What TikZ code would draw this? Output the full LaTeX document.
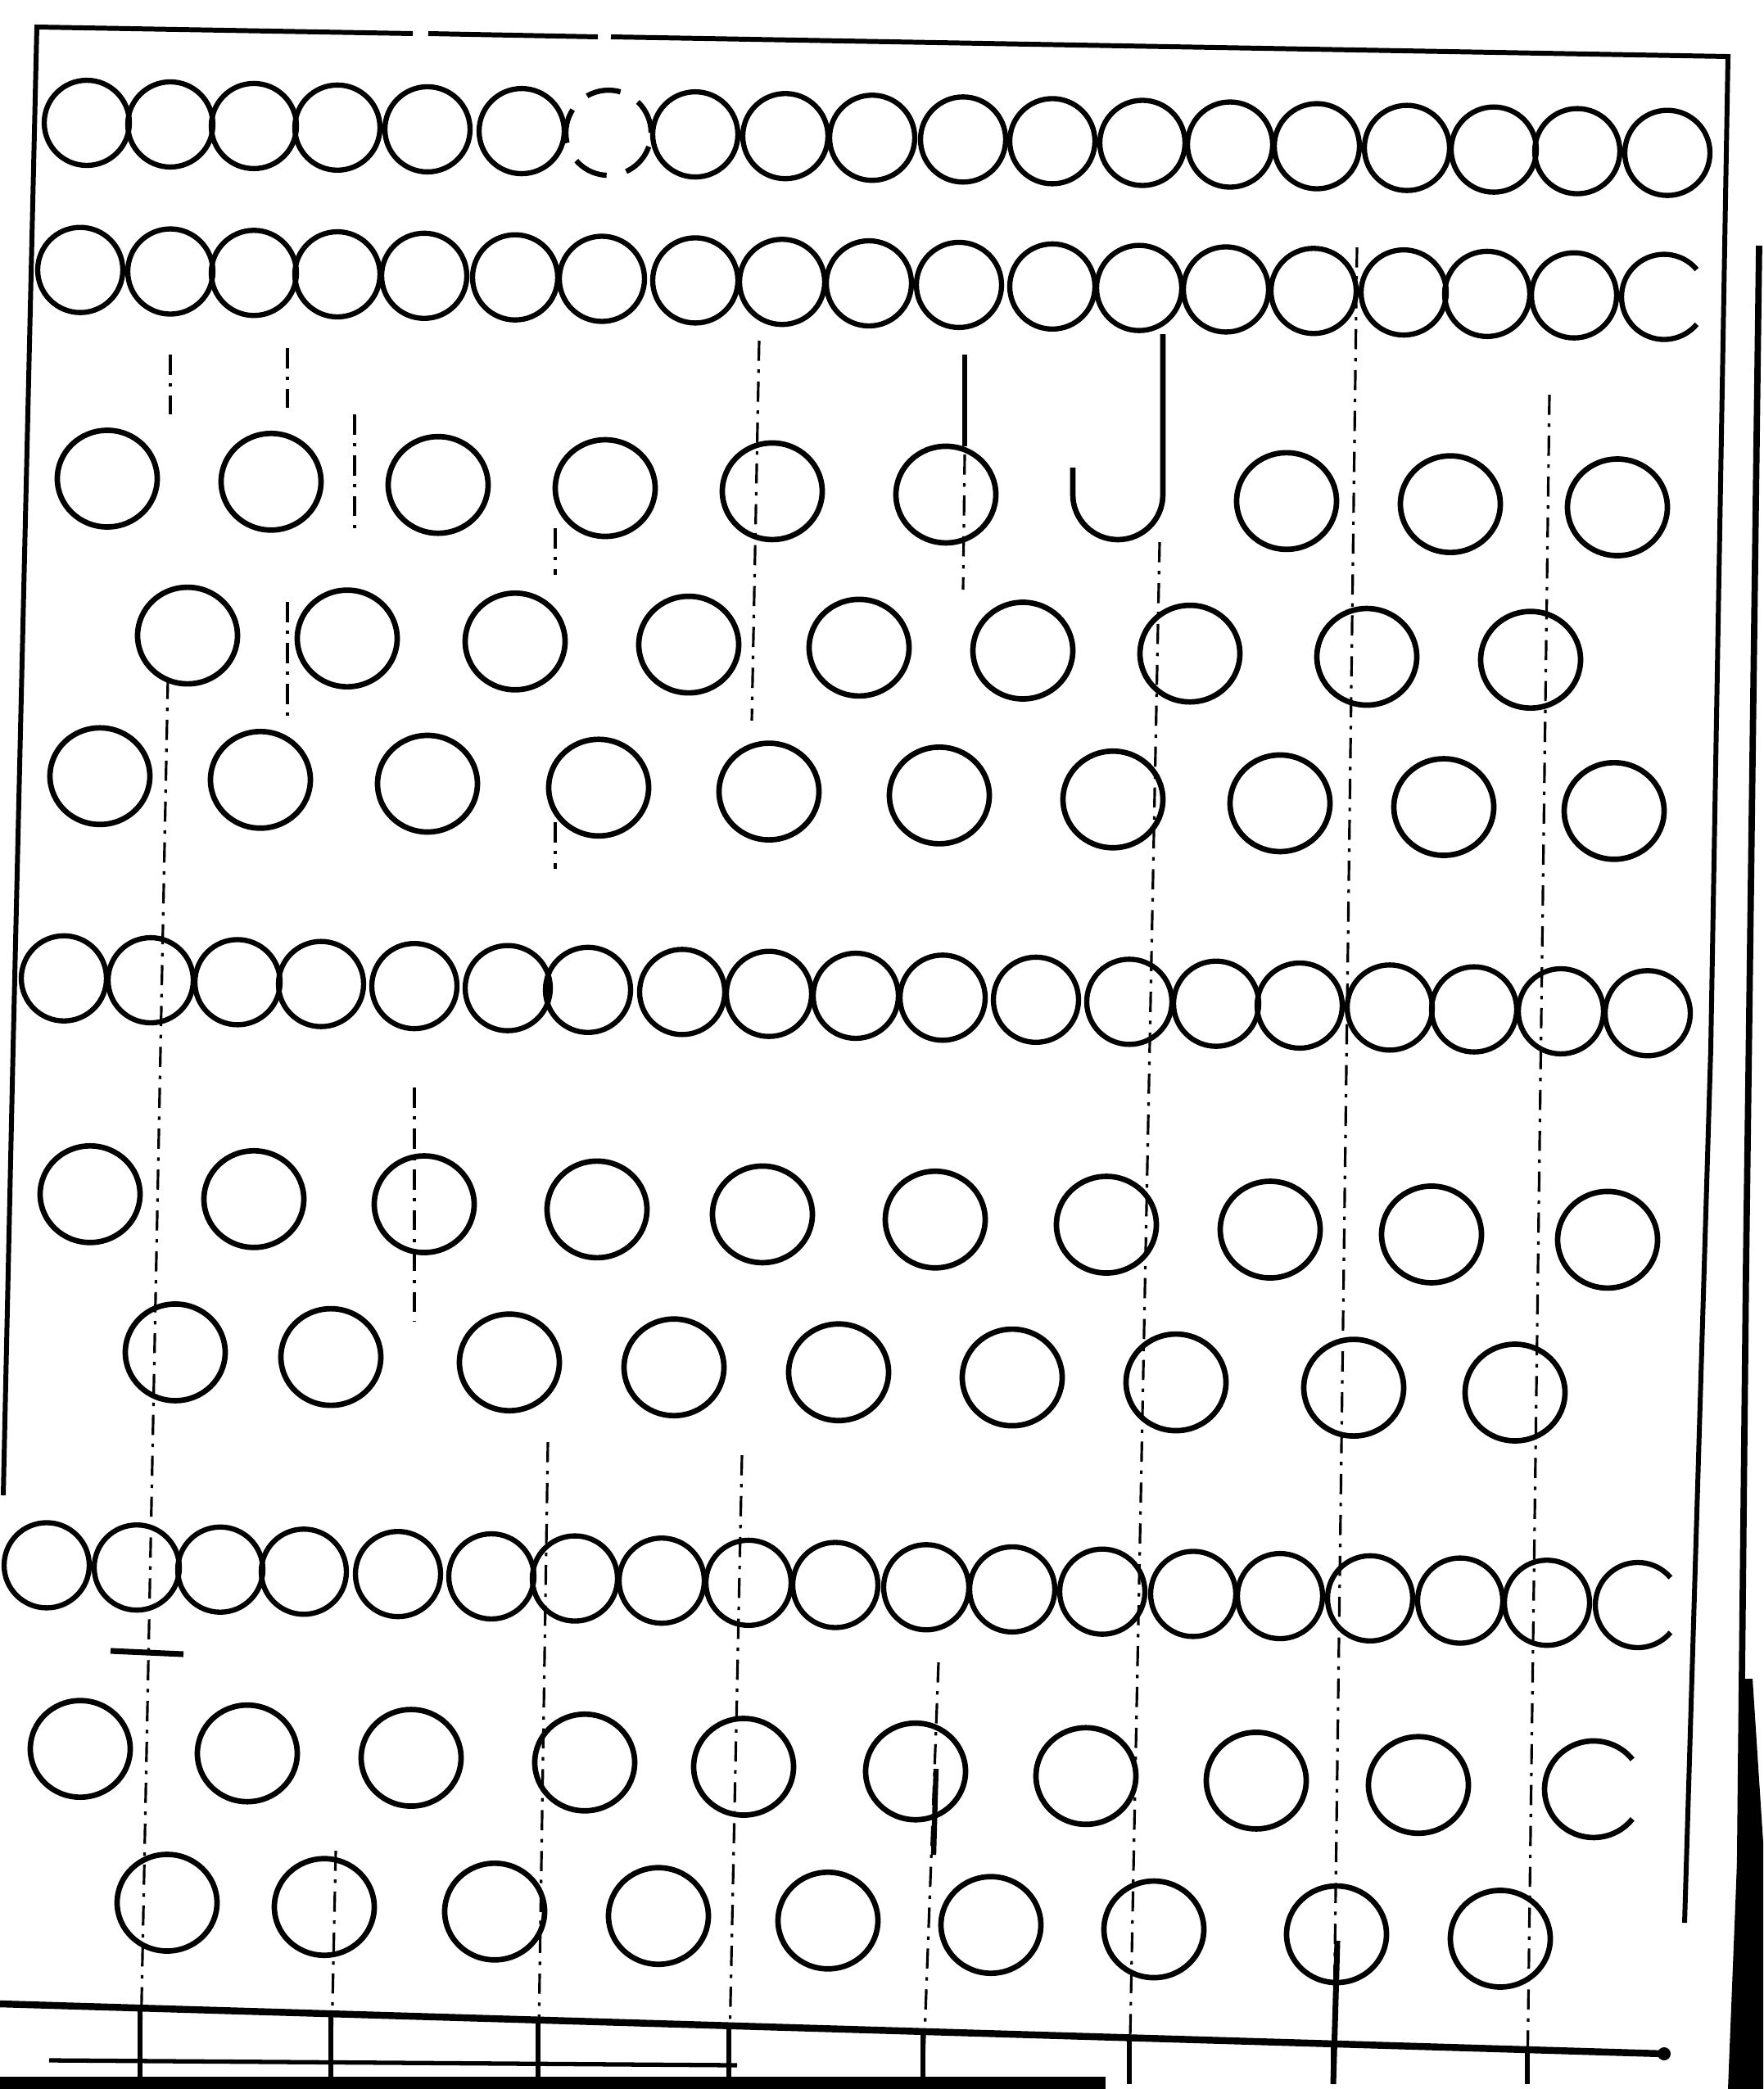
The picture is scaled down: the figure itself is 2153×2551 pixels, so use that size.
\documentclass[tikz,border=0pt]{standalone}
\begin{document}
\begin{tikzpicture}[x=0.01cm,y=0.01cm,
  bead/.style={line width=1.8pt},
  ring/.style={line width=1.9pt},
  guide/.style={line width=0.9pt, dash pattern=on 7pt off 3pt on 1.2pt off 3pt},
  frame/.style={line width=1.7pt}]
\useasboundingbox (0,0) rectangle (2153,-2551);
\fill[white] (0,0) rectangle (2153,-2551);

% frame
\draw[frame] (4,-1826) -- (16,-1280) -- (45,-33) -- (504,-41);
\draw[frame] (523,-41) -- (730,-45);
\draw[frame] (746,-45) -- (2110,-69) -- (2089,-1280) -- (2057,-2348);
\draw[line width=2.2pt] (2148,-300) -- (2132,-1551) -- (2122,-2551);
\fill (2130,-2050) -- (2140,-2050) -- (2153,-2250) -- (2153,-2551) -- (2110,-2551) -- cycle;
\draw[line width=2.4pt] (0,-2447) -- (2032,-2508);
\fill (2032,-2508) circle[radius=8];
\fill (0,-2536) rectangle (1350,-2551);
\draw[line width=1.5pt] (60,-2516) -- (900,-2522);
\foreach \x in {171,404,657,890,1127,1379,1628,1865}
  \draw[line width=1.6pt] (\x,{-(2447+0.03*\x)}) -- (\x,-2545);

% dense rows
\foreach \x in {106,208,310,412,522,637,849,959,1065,1176,1285,1395,1502,1608,1718,1824,1926,2036}
  \draw[bead] (\x,{-(148+0.019*\x)}) circle[radius=52];
\draw[bead, dash pattern=on 12pt off 7pt] (743,{-(148+0.019*743)}) circle[radius=52];

\foreach \x in {98,208,310,412,518,629,735,849,955,1061,1171,1285,1391,1497,1604,1714,1816,1922}
  \draw[bead] (\x,{-(328+0.017*\x)}) circle[radius=52];
\draw[bead] (2032,{-(328+0.017*2032)}) ++(40:52) arc[start angle=40,end angle=320,radius=52];

\foreach \x in {78,184,290,392,506,620,718,833,939,1045,1151,1265,1379,1485,1587,1697,1800,1906,2012}
  \draw[bead] (\x,{-(1193+0.022*\x)}) circle[radius=52];

\foreach \x in {57,167,269,371,486,600,702,808,914,1020,1131,1236,1346,1457,1563,1673,1783,1889}
  \draw[bead] (\x,{-(1910+0.025*\x)}) circle[radius=52];
\draw[bead] (2000,{-(1910+0.025*2000)}) ++(40:52) arc[start angle=40,end angle=320,radius=52];

% spaced rows
\foreach \x in {131,331,535,739,943,1155,1571,1771,1975}
  \draw[ring] (\x,{-(582+0.019*\x)}) ellipse[x radius=61,y radius=59];
\draw[ring] (1310,-571) -- (1310,-604) arc[start angle=180,end angle=360,radius=55] -- (1420,-408);
\draw[line width=1.6pt] (1178,-433) -- (1178,-545);

\foreach \x in {229,424,629,841,1049,1249,1453,1669,1869}
  \draw[ring] (\x,{-(772+0.018*\x)}) ellipse[x radius=61,y radius=59];

\foreach \x in {122,318,522,731,939,1147,1359,1563,1763,1971}
  \draw[ring] (\x,{-(945+0.023*\x)}) ellipse[x radius=61,y radius=59];

\foreach \x in {110,310,518,729,931,1142,1351,1551,1748,1963}
  \draw[ring] (\x,{-(1455+0.03*\x)}) ellipse[x radius=61,y radius=59];

\foreach \x in {214,404,622,823,1024,1236,1436,1653,1850}
  \draw[ring] (\x,{-(1645+0.03*\x)}) ellipse[x radius=61,y radius=59];

\foreach \x in {98,302,502,714,908,1118,1326,1534,1732}
  \draw[ring] (\x,{-(2133+0.027*\x)}) ellipse[x radius=61,y radius=59];
\draw[ring] (1946,{-(2133+0.027*1946)}) ++(38:60) arc[start angle=38,end angle=322,x radius=60,y radius=59];

\foreach \x in {204,396,604,804,1011,1210,1409,1632,1832}
  \draw[ring] (\x,{-(2318+0.027*\x)}) ellipse[x radius=61,y radius=59];

% guide lines
\draw[guide] (205,-829) -- (171,-2540);
\draw[line width=2pt] (135,-2016) -- (224,-2020);
\draw[guide] (927,-416) -- (918,-880);
\draw[guide] (906,-1777) -- (890,-2540);
\draw[guide] (1178,-555) -- (1176,-720);
\draw[guide] (1416,-662) -- (1379,-2540);
\draw[guide] (1657,-302) -- (1628,-2540);
\draw[line width=2pt] (1633,-2370) -- (1628,-2545);
\draw[guide] (1892,-482) -- (1865,-2540);
\draw[guide] (1146,-2030) -- (1127,-2540);
\draw[line width=1.8pt] (1143,-2160) -- (1140,-2265);
\draw[guide] (669,-1761) -- (657,-2540);
\draw[guide] (410,-2260) -- (404,-2540);
\draw[guide] (506,-1328) -- (506,-1614);
\draw[guide] (208,-433) -- (208,-506);
\draw[guide] (351,-425) -- (351,-498);
\draw[guide] (351,-735) -- (351,-882);
\draw[guide] (433,-506) -- (433,-653);
\draw[guide] (678,-645) -- (678,-702);
\draw[guide] (678,-1004) -- (678,-1061);
\end{tikzpicture}
\end{document}
